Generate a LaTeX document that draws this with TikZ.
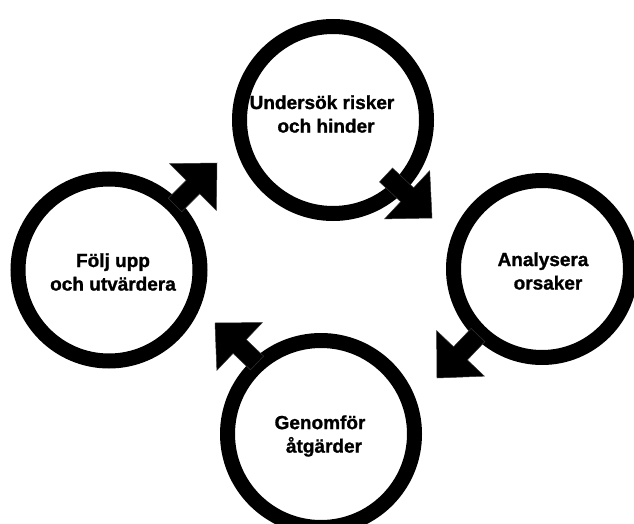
\documentclass[tikz,border=0pt]{standalone}
\usepackage{fontspec}
\setmainfont{Liberation Sans}[BoldFeatures={FakeBold=1.2}]
\usetikzlibrary{shapes.geometric,calc}
\newcommand{\blockarrow}[2]{%
  \coordinate (#1b) at ($(#2)!34pt!(#1)$);
  \filldraw[arrowfill]
    ($(#1)!9.5pt!90:(#2)$) -- ($(#1b)!9.5pt!-90:(#1)$) -- ($(#1b)!33pt!-90:(#1)$)
    -- (#2) -- ($(#1b)!33pt!90:(#1)$) -- ($(#1b)!9.5pt!90:(#1)$)
    -- ($(#1)!9.5pt!-90:(#2)$) -- cycle;}
\begin{document}
\begin{tikzpicture}[x=1pt,y=-1pt,
  ring/.style={circle,draw=black,line width=15pt,fill=white,inner sep=0pt},
  lbl/.style={align=center,font=\bfseries\fontsize{19}{23.5}\selectfont,inner sep=0pt},
  arrowfill/.style={fill=black,draw=black!80,line width=0.5pt,line join=miter}]
\useasboundingbox (0,0) rectangle (634,524);
\fill[white] (0,0) rectangle (634,524);
% circles
\node[ring,minimum size=187pt] (top) at (333,120) {};
\node[ring,minimum size=177pt] (right) at (542,269) {};
\node[ring,minimum size=187pt] (bottom) at (321,434) {};
\node[ring,minimum size=182pt] (left) at (109,270) {};
% texts
\node[lbl] (ttop) at (322,114) {Undersök risker\\\hspace{8pt}och hinder};
\node[lbl] (tright) at (543,271) {Analysera\\\hspace{10pt}orsaker};
\node[lbl] (tbottom) at (320,436) {Genomför\\\hspace{8pt}åtgärder};
\node[lbl] (tleft) at (113,272) {Följ upp\hspace{12pt}\\och utvärdera};
% arrows
\coordinate (a1s) at (386,175);
\coordinate (a1e) at (432,218);
\coordinate (a2s) at (478,335);
\coordinate (a2e) at (437,378);
\coordinate (a3s) at (257,363);
\coordinate (a3e) at (215,323);
\coordinate (a4s) at (175,205);
\coordinate (a4e) at (217,163);
\blockarrow{a1s}{a1e}
\blockarrow{a2s}{a2e}
\blockarrow{a3s}{a3e}
\blockarrow{a4s}{a4e}
\end{tikzpicture}
\end{document}
